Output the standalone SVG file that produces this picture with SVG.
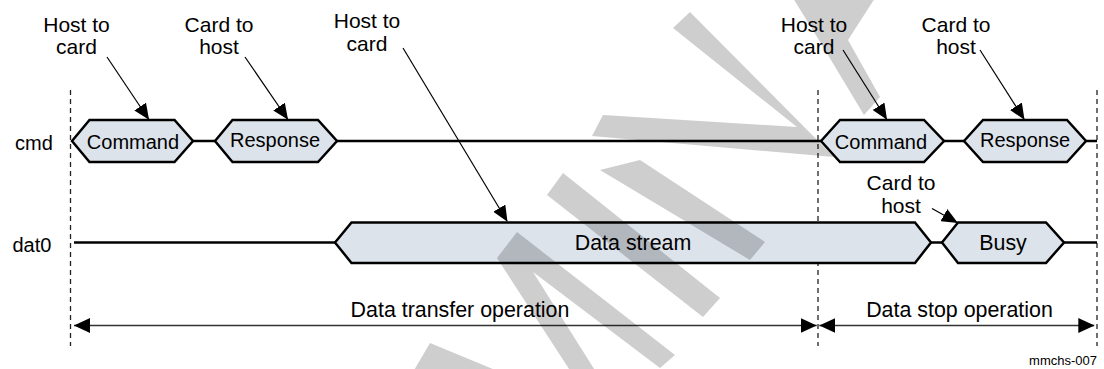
<svg xmlns="http://www.w3.org/2000/svg" width="1104" height="369" viewBox="0 0 1104 369">
<style>
text{font-family:"Liberation Sans",Arial,sans-serif;fill:#000}
.lbl{font-size:21px;text-anchor:middle}
.box{fill:#dde3ea;stroke:#000;stroke-width:2.5;stroke-linejoin:miter}
.sig{stroke:#000;stroke-width:2.5;fill:none}
.dash{stroke:#222;stroke-width:1.3;stroke-dasharray:5,4;fill:none}
.ann{stroke:#000;stroke-width:1.2;fill:none;marker-end:url(#ah)}
.dim{stroke:#333;stroke-width:1.3;fill:none;marker-start:url(#dh);marker-end:url(#dh)}
.bt{font-size:20px;text-anchor:middle}
.bt2{font-size:21.4px;text-anchor:middle}
</style>
<defs>
<marker id="ah" markerUnits="userSpaceOnUse" markerWidth="16" markerHeight="14" refX="15" refY="7" orient="auto"><path d="M0,0 L16,7 L0,14 z" fill="#000"/></marker>
<marker id="dh" markerUnits="userSpaceOnUse" markerWidth="16" markerHeight="15" refX="16" refY="7.5" orient="auto-start-reverse"><path d="M0,0 L16,7.5 L0,15 z" fill="#000"/></marker>
</defs>
<rect width="1104" height="369" fill="#fff"/>

<g id="guides">
<line class="dash" x1="70.5" y1="90" x2="70.5" y2="346"/>
<line class="dash" x1="818" y1="90" x2="818" y2="346"/>
<line class="dash" x1="1097" y1="90" x2="1097" y2="346"/>
</g>

<g id="signal-labels">
<text x="15" y="150" font-size="20">cmd</text>
<text x="12.5" y="251.5" font-size="20">dat0</text>
</g>

<g id="connectors">
<line class="sig" x1="193" y1="141" x2="215" y2="141"/>
<line class="sig" x1="337" y1="141" x2="821" y2="141"/>
<line class="sig" x1="944" y1="141" x2="964" y2="141"/>
<line class="sig" x1="1086" y1="141" x2="1097" y2="141"/>
<line class="sig" x1="74" y1="242.5" x2="335" y2="242.5"/>
<line class="sig" x1="931" y1="242.5" x2="942" y2="242.5"/>
<line class="sig" x1="1064" y1="242.5" x2="1097" y2="242.5"/>
<line class="ann" x1="107" y1="57" x2="148.5" y2="119"/>
<line class="ann" x1="245" y1="57" x2="287.5" y2="119"/>
<line class="ann" x1="403" y1="48" x2="507" y2="221"/>
<line class="ann" x1="843" y1="50" x2="886.5" y2="119"/>
<line class="ann" x1="980" y1="50" x2="1024" y2="119"/>
<line class="ann" x1="932" y1="208.5" x2="957" y2="222.5"/>
<line class="dim" x1="74" y1="325.5" x2="816.7" y2="325.5"/>
<line class="dim" x1="819.3" y1="325.5" x2="1094.3" y2="325.5"/>
</g>

<g id="cmd-command-1">
<polygon class="box" points="72,141 89.5,120 174.5,120 193,141 174.5,162 89.5,162"/>
<text class="bt" x="133" y="148.5">Command</text>
</g>
<g id="cmd-response-1">
<polygon class="box" points="215,141 232.5,120 318,120 337,141 318,162 232.5,162"/>
<text class="bt" x="275" y="146.5">Response</text>
</g>
<g id="cmd-command-2">
<polygon class="box" points="821,141 840,120 924,120 944,141 924,162 840,162"/>
<text class="bt" x="881" y="148.5">Command</text>
</g>
<g id="cmd-response-2">
<polygon class="box" points="964,141 983,120 1067,120 1086,141 1067,162 983,162"/>
<text class="bt" x="1025" y="146.5">Response</text>
</g>
<g id="dat-data-stream">
<polygon class="box" points="335,242.5 351.5,222.5 915,222.5 931,242.5 915,263 351.5,263"/>
<text class="bt2" x="633" y="250">Data stream</text>
</g>
<g id="dat-busy">
<polygon class="box" points="942,242.5 958,222.5 1046,222.5 1064,242.5 1046,263 958,263"/>
<text class="bt2" x="1003" y="249.5">Busy</text>
</g>

<g id="note-host-card-1"><text class="lbl" x="76.5" y="31.5">Host to</text><text class="lbl" x="76.5" y="54">card</text></g>
<g id="note-card-host-1"><text class="lbl" x="219" y="31.5">Card to</text><text class="lbl" x="219" y="54">host</text></g>
<g id="note-host-card-2"><text class="lbl" x="367" y="28">Host to</text><text class="lbl" x="367" y="51">card</text></g>
<g id="note-host-card-3"><text class="lbl" x="814" y="31.5">Host to</text><text class="lbl" x="814" y="54">card</text></g>
<g id="note-card-host-3"><text class="lbl" x="956" y="31.5">Card to</text><text class="lbl" x="956" y="54">host</text></g>
<g id="note-card-host-busy"><text class="lbl" x="901" y="190">Card to</text><text class="lbl" x="901" y="213">host</text></g>

<g id="operations">
<text class="bt2" x="460" y="317">Data transfer operation</text>
<text class="bt2" x="959.5" y="317">Data stop operation</text>
<text x="1097" y="365" font-size="13" text-anchor="end">mmchs-007</text>
</g>

<g id="watermark" opacity="0.19" fill="#000">
<polygon points="690,12 834,157 592,136 603,115 797,127 673,28"/>
<polygon points="793,-2 875,-2 848,40 880,97 864,115 822,45"/>
<polygon points="563,173 720,298 703,317 547,195"/>
<polygon points="640,160 765,242 750,260 600,170"/>
<polygon points="497,258 517,232 675,355 660,368 533,272 596,372 571,372"/>
<polygon points="430,343 500,372 413,372"/>
</g>
</svg>
